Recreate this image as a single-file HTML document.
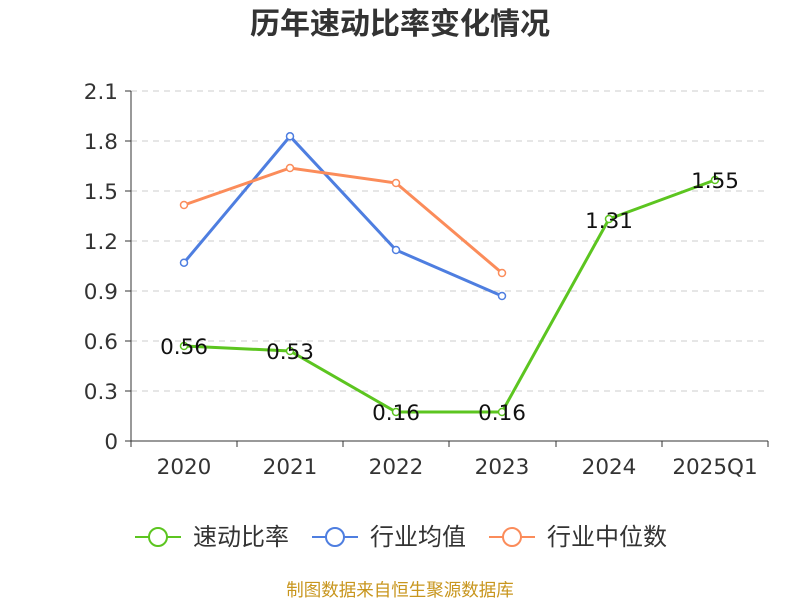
<!DOCTYPE html>
<html><head><meta charset="utf-8"><style>body{margin:0;background:#fff}</style></head><body>
<svg width="800" height="600" xmlns="http://www.w3.org/2000/svg" font-family="DejaVu Sans, Noto Sans CJK SC, sans-serif">
<text x="400" y="34" text-anchor="middle" font-size="30" font-weight="bold" fill="#333">历年速动比率变化情况</text>
<g stroke="#ccc" stroke-dasharray="6,5" stroke-width="1">
<line x1="131" x2="768" y1="91" y2="91"/><line x1="131" x2="768" y1="141" y2="141"/><line x1="131" x2="768" y1="191" y2="191"/><line x1="131" x2="768" y1="241" y2="241"/><line x1="131" x2="768" y1="291" y2="291"/><line x1="131" x2="768" y1="341" y2="341"/><line x1="131" x2="768" y1="391" y2="391"/>
</g>
<g stroke="#333" stroke-width="1">
<line x1="131" x2="131" y1="91" y2="441"/>
<line x1="131" x2="768" y1="441" y2="441"/>
<line x1="125" x2="131" y1="91" y2="91"/><line x1="125" x2="131" y1="141" y2="141"/><line x1="125" x2="131" y1="191" y2="191"/><line x1="125" x2="131" y1="241" y2="241"/><line x1="125" x2="131" y1="291" y2="291"/><line x1="125" x2="131" y1="341" y2="341"/><line x1="125" x2="131" y1="391" y2="391"/><line x1="125" x2="131" y1="441" y2="441"/>
<line x1="131" x2="131" y1="441" y2="447"/><line x1="237" x2="237" y1="441" y2="447"/><line x1="343" x2="343" y1="441" y2="447"/><line x1="449" x2="449" y1="441" y2="447"/><line x1="556" x2="556" y1="441" y2="447"/><line x1="662" x2="662" y1="441" y2="447"/><line x1="768" x2="768" y1="441" y2="447"/>
</g>
<g font-size="21.5" fill="#333" text-anchor="end">
<text x="118" y="99">2.1</text><text x="118" y="149">1.8</text><text x="118" y="199">1.5</text><text x="118" y="249">1.2</text><text x="118" y="299">0.9</text><text x="118" y="349">0.6</text><text x="118" y="399">0.3</text><text x="118" y="449">0</text>
</g>
<g font-size="21.5" fill="#333" text-anchor="middle">
<text x="184" y="474">2020</text><text x="290" y="474">2021</text><text x="396" y="474">2022</text><text x="502" y="474">2023</text><text x="609" y="474">2024</text><text x="715" y="474">2025Q1</text>
</g>
<g fill="#fff" stroke-width="1.5">
<polyline fill="none" stroke="#4e7ee0" stroke-width="3" points="184,262.7 290,136.3 396,250 502,296"/>
<g stroke="#4e7ee0"><circle cx="184" cy="262.7" r="3.5"/><circle cx="290" cy="136.3" r="3.5"/><circle cx="396" cy="250" r="3.5"/><circle cx="502" cy="296" r="3.5"/></g>
<polyline fill="none" stroke="#fb8c5a" stroke-width="3" points="184,205 290,168 396,183 502,273"/>
<g stroke="#fb8c5a"><circle cx="184" cy="205" r="3.5"/><circle cx="290" cy="168" r="3.5"/><circle cx="396" cy="183" r="3.5"/><circle cx="502" cy="273" r="3.5"/></g>
<polyline fill="none" stroke="#5cc520" stroke-width="3" points="184,346 290,351 396,412 502,412 609,219 715,180"/>
<g stroke="#5cc520"><circle cx="184" cy="346" r="3.5"/><circle cx="290" cy="351" r="3.5"/><circle cx="396" cy="412" r="3.5"/><circle cx="502" cy="412" r="3.5"/><circle cx="609" cy="219" r="3.5"/><circle cx="715" cy="180" r="3.5"/></g>
</g>
<g font-size="21.5" fill="#111" text-anchor="middle">
<text x="184" y="354">0.56</text><text x="290" y="359">0.53</text><text x="396" y="420">0.16</text><text x="502" y="420">0.16</text><text x="609" y="228">1.31</text><text x="715" y="188">1.55</text>
</g>
<g font-size="24" fill="#333" stroke-width="2">
<line x1="135" x2="181" y1="537" y2="537" stroke="#5cc520"/><circle cx="158" cy="537" r="9" fill="#fff" stroke="#5cc520"/><text x="193" y="545">速动比率</text>
<line x1="312" x2="358" y1="537" y2="537" stroke="#4e7ee0"/><circle cx="335" cy="537" r="9" fill="#fff" stroke="#4e7ee0"/><text x="370" y="545">行业均值</text>
<line x1="489" x2="535" y1="537" y2="537" stroke="#fb8c5a"/><circle cx="512" cy="537" r="9" fill="#fff" stroke="#fb8c5a"/><text x="547" y="545">行业中位数</text>
</g>
<text x="400" y="596" text-anchor="middle" font-size="17.5" fill="#c8961e">制图数据来自恒生聚源数据库</text>
</svg>
</body></html>
